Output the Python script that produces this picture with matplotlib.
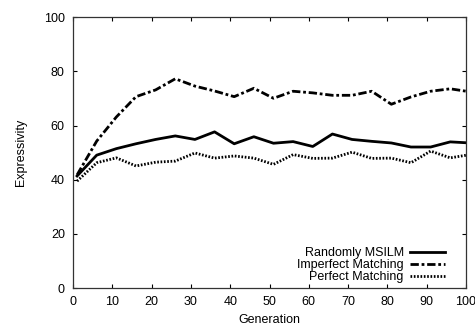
import matplotlib
matplotlib.use("Agg")
import matplotlib.pyplot as plt

# data
generation = [1, 6, 11, 16, 21, 26, 31, 36, 41, 46, 51, 56, 61, 66, 71, 76, 81, 86, 91, 96, 101]
randomly_msilm = [41.4, 49.1, 51.5, 53.3, 54.9, 56.2, 54.9, 57.7, 53.3, 55.9, 53.5,
                  54.1, 52.3, 56.9, 54.9, 54.2, 53.6, 52.1, 52.1, 54.0, 53.6]
imperfect = [41.8, 54.3, 63.2, 70.7, 73.2, 77.3, 74.6, 72.8, 70.7, 73.8, 70.1,
             72.7, 72.1, 71.2, 71.2, 72.7, 67.9, 70.6, 72.7, 73.6, 72.5]
perfect = [39.5, 46.3, 48.1, 45.1, 46.5, 46.9, 49.9, 48.0, 48.8, 48.0, 45.7,
           49.3, 47.9, 48.0, 50.2, 47.9, 48.0, 46.3, 50.6, 48.1, 49.3]

plt.rcParams["font.family"] = ["Liberation Sans", "DejaVu Sans"]
plt.rcParams["font.size"] = 9

fig = plt.figure(figsize=(4.75, 3.27), dpi=100)
ax = fig.add_axes([0.154, 0.119, 0.827, 0.828])

ax.plot(generation, randomly_msilm, color="black", lw=2.0, label="Randomly MSILM")
ax.plot(generation, imperfect, color="black", lw=2.0, linestyle=(0, (3, 1, 1, 1)),
        label="Imperfect Matching")
ax.plot(generation, perfect, color="black", lw=2.0, linestyle=(0, (0.6, 0.6)),
        label="Perfect Matching")

ax.set_xlim(0, 100)
ax.set_ylim(0, 100)
ax.set_xticks(range(0, 101, 10))
ax.set_yticks(range(0, 101, 20))
ax.tick_params(direction="in", length=3, width=0.8, top=True, right=True, pad=6,
               labelsize=9)
for s in ax.spines.values():
    s.set_linewidth(0.9)
    s.set_color("#333333")

ax.set_xlabel("Generation", fontsize=9, labelpad=4)
ax.set_ylabel("Expressivity", fontsize=9, labelpad=12)

ax.legend(loc="lower right", bbox_to_anchor=(0.969, -0.015), frameon=False,
          markerfirst=False, handlelength=2.8, labelspacing=0.0,
          borderaxespad=0.3, handletextpad=0.5, fontsize=9)

fig.savefig("out.png", dpi=100)
